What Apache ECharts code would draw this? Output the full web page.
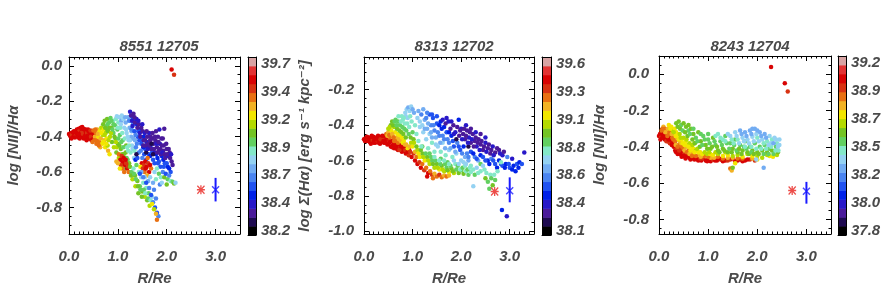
<!DOCTYPE html>
<html><head><meta charset="utf-8">
<script src="https://cdn.jsdelivr.net/npm/echarts@6/dist/echarts.min.js"></script>
<style>html,body{margin:0;padding:0;background:#fff}#c{width:885px;height:293px}</style>
</head><body><div id="c"></div>
<script>
// ---------------- DATA ----------------
const panelTitles = ['8551 12705', '8313 12702', '8243 12704'];
const xAxisName = 'R/Re';
const yAxisName = 'log [NII]/H\u03b1';
const colorbarName = 'log \u03a3(H\u03b1) [erg s\u207b\u00b9 kpc\u207b\u00b2]';
const xTicks = [0, 1, 2, 3];
const yTicks1 = [0, -0.2, -0.4, -0.6, -0.8];
const yTicks2 = [-0.2, -0.4, -0.6, -0.8, -1.0];
const yTicks3 = [0, -0.2, -0.4, -0.6, -0.8];
const cbTicks1 = [38.2, 38.45, 38.7, 38.95, 39.2, 39.45, 39.7];
const cbLabels1 = ['38.2', '38.4', '38.7', '38.9', '39.2', '39.4', '39.7'];
const cbTicks2 = [38.1, 38.35, 38.6, 38.85, 39.1, 39.35, 39.6];
const cbLabels2 = ['38.1', '38.4', '38.6', '38.8', '39.1', '39.3', '39.6'];
const cbTicks3 = [37.8, 38.033, 38.267, 38.5, 38.733, 38.967, 39.2];
const cbLabels3 = ['37.8', '38.0', '38.2', '38.5', '38.7', '38.9', '39.2'];
const cbRange1 = [38.164, 39.763];
const cbRange2 = [38.064, 39.663];
const cbRange3 = [37.766, 39.259];

// points: [R/Re, log [NII]/Ha, log Sigma(Ha)]
const points1 = [
[0.00,-0.385,39.55],[0.02,-0.395,39.55],[0.04,-0.38,39.55],[0.06,-0.39,39.48],[0.08,-0.375,39.55],[0.09,-0.40,39.55],[0.11,-0.385,39.55],[0.13,-0.37,39.55],[0.14,-0.395,39.48],[0.16,-0.36,39.55],[0.17,-0.38,39.55],[0.19,-0.405,39.55],[0.20,-0.355,39.55],[0.21,-0.37,39.48],[0.23,-0.39,39.55],[0.24,-0.35,39.55],[0.25,-0.375,39.55],[0.26,-0.40,39.55],[0.28,-0.36,39.55],[0.29,-0.385,39.48],[0.30,-0.41,39.55],[0.31,-0.37,39.55],[0.33,-0.39,39.55],[0.34,-0.36,39.55],[0.35,-0.405,39.55],[0.37,-0.38,39.48],[0.38,-0.395,39.55],[0.40,-0.37,39.55],[0.41,-0.41,39.55],[0.43,-0.385,39.55],[0.45,-0.40,39.48],[0.47,-0.375,39.55],[0.49,-0.415,39.55],[0.51,-0.39,39.55],[0.18,-0.39,39.55],[0.27,-0.345,39.55],[0.22,-0.41,39.55],[0.36,-0.42,39.55],[0.12,-0.405,39.55],
[0.05,-0.41,39.55],[0.15,-0.38,39.55],[0.26,-0.38,39.48],[0.32,-0.40,39.55],[0.39,-0.36,39.55],[0.44,-0.365,39.48],[0.46,-0.42,39.55],[0.10,-0.37,39.55],[0.30,-0.355,39.55],[0.20,-0.385,39.55],
[0.50,-0.365,39.40],[0.53,-0.40,39.32],[0.55,-0.38,39.40],[0.57,-0.42,39.40],[0.58,-0.36,39.32],[0.60,-0.40,39.24],[0.62,-0.43,39.40],[0.63,-0.37,39.24],[0.65,-0.41,39.32],[0.66,-0.35,39.16],[0.68,-0.44,39.24],[0.69,-0.39,39.16],[0.71,-0.36,39.24],[0.72,-0.42,39.32],[0.74,-0.46,39.24],[0.75,-0.38,39.16],[0.77,-0.41,39.24],[0.79,-0.45,39.16],[0.80,-0.48,39.32],[0.56,-0.44,39.40],[0.64,-0.46,39.32],[0.83,-0.50,39.24],
[0.52,-0.42,39.40],[0.59,-0.385,39.32],[0.61,-0.45,39.40],[0.67,-0.38,39.24],[0.70,-0.43,39.24],[0.73,-0.39,39.16],[0.76,-0.44,39.24],[0.78,-0.36,39.08],[0.54,-0.36,39.40],[0.48,-0.43,39.40],
[0.70,-0.33,39.08],[0.73,-0.31,39.08],[0.76,-0.345,39.00],[0.78,-0.30,39.08],[0.80,-0.37,39.08],[0.82,-0.32,39.00],[0.84,-0.40,39.16],[0.85,-0.295,39.00],[0.87,-0.35,39.08],[0.88,-0.43,39.08],[0.90,-0.31,38.92],[0.91,-0.38,39.00],[0.92,-0.46,39.16],[0.94,-0.335,39.00],[0.95,-0.41,39.08],[0.97,-0.49,39.08],[0.99,-0.36,39.00],[1.00,-0.44,39.08],[1.02,-0.52,39.16],[1.04,-0.39,39.00],[1.06,-0.47,39.08],[1.08,-0.56,39.08],[1.10,-0.42,39.00],[1.12,-0.50,39.08],[1.15,-0.58,39.00],[1.17,-0.45,39.08],[1.20,-0.53,39.00],[0.81,-0.42,39.16],[0.86,-0.38,39.16],[0.96,-0.43,39.16],
[0.74,-0.35,39.08],[0.79,-0.33,39.00],[0.83,-0.35,39.08],[0.89,-0.36,39.00],[0.93,-0.40,39.08],[0.98,-0.46,39.16],[1.01,-0.41,39.00],[1.03,-0.45,39.08],[1.07,-0.43,39.00],[1.09,-0.50,39.08],[1.11,-0.46,39.00],[1.13,-0.54,39.16],[1.16,-0.49,39.08],[1.18,-0.52,39.00],[1.21,-0.48,38.92],[1.23,-0.55,39.08],[0.91,-0.33,39.00],[0.87,-0.31,39.00],
[0.96,-0.30,38.92],[0.98,-0.285,38.84],[1.01,-0.32,38.92],[1.03,-0.29,38.84],[1.05,-0.35,38.92],[1.07,-0.31,38.76],[1.09,-0.38,38.92],[1.11,-0.30,38.84],[1.13,-0.35,38.84],[1.14,-0.41,38.92],[1.16,-0.32,38.76],[1.18,-0.38,38.84],[1.19,-0.46,38.92],[1.21,-0.29,38.76],[1.22,-0.42,38.84],[1.24,-0.35,38.76],[1.26,-0.49,38.92],[1.27,-0.40,38.76],[1.29,-0.45,38.84],[1.31,-0.33,38.68],[1.33,-0.52,38.84],[1.35,-0.42,38.76],
[1.00,-0.35,38.92],[1.06,-0.33,38.84],[1.08,-0.28,38.84],[1.15,-0.29,38.76],[1.17,-0.36,38.84],[1.20,-0.40,38.84],[1.23,-0.45,38.92],[1.25,-0.42,38.84],[1.28,-0.37,38.76],[1.30,-0.47,38.84],[1.32,-0.41,38.76],[1.34,-0.48,38.92],[1.26,-0.31,38.76],
[1.23,-0.31,38.68],[1.28,-0.36,38.68],[1.30,-0.29,38.60],[1.34,-0.37,38.60],[1.37,-0.46,38.68],[1.39,-0.33,38.52],[1.41,-0.40,38.60],[1.43,-0.49,38.68],[1.46,-0.36,38.52],[1.48,-0.44,38.60],[1.50,-0.52,38.68],[1.53,-0.40,38.52],[1.56,-0.47,38.60],[1.59,-0.43,38.52],[1.63,-0.50,38.60],[1.67,-0.46,38.52],[1.72,-0.53,38.60],[1.78,-0.50,38.52],[1.84,-0.54,38.60],[1.90,-0.51,38.52],[1.96,-0.55,38.60],[2.02,-0.57,38.52],[2.08,-0.60,38.60],[1.36,-0.53,38.52],
[1.33,-0.31,38.60],[1.36,-0.39,38.68],[1.39,-0.44,38.68],[1.42,-0.37,38.60],[1.44,-0.42,38.60],[1.47,-0.48,38.68],[1.50,-0.42,38.60],[1.52,-0.46,38.52],[1.54,-0.50,38.60],[1.58,-0.53,38.60],[1.61,-0.46,38.52],[1.66,-0.51,38.52],[1.70,-0.49,38.60],[1.75,-0.55,38.60],[1.81,-0.52,38.52],[1.87,-0.57,38.60],[1.93,-0.53,38.52],[2.00,-0.55,38.60],[2.05,-0.58,38.52],[1.40,-0.52,38.60],
[1.25,-0.26,38.44],[1.27,-0.28,38.36],[1.29,-0.31,38.44],[1.32,-0.27,38.36],[1.35,-0.32,38.36],[1.38,-0.30,38.44],[1.40,-0.35,38.36],[1.43,-0.33,38.36],[1.45,-0.38,38.44],[1.48,-0.35,38.36],[1.51,-0.37,38.36],[1.53,-0.42,38.36],[1.55,-0.38,38.44],[1.57,-0.45,38.36],[1.60,-0.40,38.36],[1.62,-0.44,38.36],[1.64,-0.38,38.44],[1.66,-0.42,38.36],[1.68,-0.47,38.36],[1.70,-0.41,38.36],[1.73,-0.44,38.36],[1.75,-0.49,38.44],[1.77,-0.42,38.36],[1.80,-0.46,38.36],[1.82,-0.40,38.36],[1.84,-0.48,38.36],[1.86,-0.44,38.44],[1.88,-0.50,38.36],[1.90,-0.45,38.36],[1.93,-0.48,38.36],[1.95,-0.355,38.36],[1.97,-0.52,38.36],[2.00,-0.47,38.36],[2.03,-0.51,38.44],[2.06,-0.49,38.36],[2.10,-0.54,38.36],[1.72,-0.50,38.28],[1.58,-0.49,38.28],[1.38,-0.50,38.28],[1.92,-0.41,38.36],
[1.30,-0.34,38.44],[1.34,-0.29,38.36],[1.42,-0.31,38.44],[1.46,-0.40,38.36],[1.50,-0.33,38.44],[1.52,-0.45,38.36],[1.56,-0.42,38.36],[1.59,-0.37,38.36],[1.61,-0.47,38.44],[1.65,-0.45,38.36],[1.67,-0.40,38.36],[1.69,-0.44,38.28],[1.71,-0.38,38.36],[1.74,-0.47,38.36],[1.76,-0.40,38.36],[1.79,-0.44,38.44],[1.81,-0.49,38.36],[1.83,-0.43,38.36],[1.87,-0.47,38.36],[1.89,-0.41,38.36],[1.91,-0.49,38.44],[1.94,-0.45,38.36],[1.96,-0.50,38.36],[1.99,-0.44,38.36],[2.01,-0.50,38.36],[2.04,-0.47,38.36],[2.07,-0.52,38.36],[2.09,-0.50,38.44],[2.12,-0.56,38.36],[1.85,-0.36,38.44],[1.78,-0.37,38.36],
[1.02,-0.50,39.40],[1.05,-0.53,39.55],[1.08,-0.51,39.48],[1.10,-0.545,39.55],[1.12,-0.52,39.55],[1.14,-0.56,39.55],[1.17,-0.55,39.48],[1.19,-0.58,39.55],[0.97,-0.54,39.32],[1.13,-0.60,39.40],[1.22,-0.60,39.40],
[1.06,-0.56,39.48],[1.09,-0.58,39.40],[1.16,-0.53,39.55],[1.21,-0.57,39.48],[1.00,-0.55,39.32],[1.04,-0.58,39.24],
[1.49,-0.55,39.55],[1.53,-0.56,39.48],[1.56,-0.54,39.55],[1.59,-0.57,39.55],[1.62,-0.55,39.48],[1.64,-0.60,39.55],[1.68,-0.58,39.40],[1.55,-0.60,39.40],[1.60,-0.62,39.32],[1.46,-0.57,39.24],
[1.51,-0.58,39.48],[1.57,-0.58,39.55],[1.66,-0.56,39.55],[1.61,-0.52,39.40],
[1.25,-0.57,39.08],[1.28,-0.60,39.00],[1.32,-0.58,38.92],[1.35,-0.62,39.08],[1.38,-0.56,39.00],[1.40,-0.65,39.08],[1.43,-0.60,38.92],[1.45,-0.68,39.00],[1.48,-0.63,38.84],[1.50,-0.71,39.08],[1.52,-0.66,38.92],[1.55,-0.74,39.16],[1.58,-0.69,38.92],[1.60,-0.76,39.08],[1.63,-0.72,39.00],[1.65,-0.79,39.16],[1.30,-0.64,39.16],[1.36,-0.68,39.16],[1.42,-0.72,39.08],
[1.27,-0.62,39.08],[1.33,-0.61,39.00],[1.37,-0.64,39.00],[1.41,-0.68,39.08],[1.46,-0.70,39.00],[1.49,-0.74,39.08],[1.53,-0.70,39.00],[1.56,-0.72,38.92],[1.62,-0.75,39.00],[1.67,-0.76,38.92],[1.70,-0.74,38.84],[1.48,-0.60,38.76],[1.55,-0.63,38.84],[1.62,-0.65,38.76],[1.66,-0.63,38.84],[1.72,-0.66,38.76],[1.74,-0.70,38.68],[1.78,-0.75,38.68],
[1.45,-0.61,38.60],[1.52,-0.63,38.68],[1.58,-0.66,38.60],[1.64,-0.69,38.68],[1.68,-0.73,38.60],[1.72,-0.77,38.68],[1.76,-0.80,38.60],[1.80,-0.83,38.60],[1.83,-0.85,38.68],
[1.70,-0.78,39.24],[1.74,-0.81,39.16],[1.78,-0.835,39.32],[1.80,-0.87,39.40],
[1.75,-0.60,38.84],[1.80,-0.58,38.92],[1.84,-0.61,39.00],[1.88,-0.63,38.92],[1.92,-0.60,38.68],[1.95,-0.63,39.08],[1.98,-0.61,38.60],[2.02,-0.64,39.00],[2.05,-0.62,38.68],[2.08,-0.65,38.92],[2.12,-0.655,39.00],[2.15,-0.665,39.08],[2.18,-0.66,38.84],[1.86,-0.67,38.68],[1.90,-0.66,38.84],[2.00,-0.67,39.08],[1.78,-0.64,38.92],[1.82,-0.55,38.60],[1.94,-0.57,38.60],
[2.10,-0.02,39.55],[2.15,-0.05,39.48]
];
const points2 = [
[0.00,-0.48,39.46],[0.03,-0.475,39.46],[0.05,-0.49,39.46],[0.08,-0.48,39.38],[0.10,-0.47,39.46],[0.12,-0.495,39.46],[0.15,-0.475,39.46],[0.17,-0.49,39.38],[0.19,-0.465,39.46],[0.21,-0.485,39.46],[0.23,-0.50,39.46],[0.25,-0.47,39.46],[0.27,-0.49,39.38],[0.29,-0.46,39.46],[0.31,-0.48,39.46],[0.33,-0.505,39.46],[0.35,-0.465,39.46],[0.37,-0.49,39.46],[0.39,-0.475,39.38],[0.41,-0.50,39.46],[0.43,-0.46,39.46],[0.45,-0.485,39.46],[0.48,-0.51,39.46],[0.50,-0.475,39.38],[0.52,-0.50,39.46],[0.55,-0.52,39.46],[0.57,-0.49,39.46],[0.60,-0.51,39.46],[0.62,-0.53,39.46],[0.65,-0.50,39.38],[0.67,-0.52,39.46],[0.70,-0.54,39.46],[0.72,-0.51,39.46],[0.75,-0.53,39.46],[0.78,-0.55,39.46],[0.80,-0.52,39.38],[0.83,-0.545,39.46],[0.86,-0.56,39.46],[0.88,-0.53,39.46],[0.92,-0.57,39.38],[0.14,-0.505,39.46],[0.06,-0.465,39.46],
[0.02,-0.49,39.46],[0.09,-0.49,39.46],[0.16,-0.46,39.46],[0.20,-0.50,39.46],[0.26,-0.48,39.46],[0.30,-0.50,39.46],[0.34,-0.48,39.38],[0.38,-0.46,39.46],[0.40,-0.49,39.46],[0.44,-0.50,39.46],[0.47,-0.47,39.46],[0.54,-0.49,39.46],[0.58,-0.525,39.46],[0.63,-0.51,39.46],[0.68,-0.535,39.46],[0.73,-0.54,39.38],[0.77,-0.52,39.46],[0.82,-0.53,39.46],[0.85,-0.54,39.38],[0.90,-0.55,39.46],[0.93,-0.54,39.46],
[0.46,-0.45,39.30],[0.50,-0.44,39.22],[0.53,-0.47,39.30],[0.56,-0.43,39.14],[0.59,-0.46,39.22],[0.62,-0.49,39.30],[0.64,-0.44,39.14],[0.67,-0.47,39.22],[0.70,-0.50,39.30],[0.73,-0.46,39.14],[0.76,-0.49,39.22],[0.80,-0.50,39.14],[0.84,-0.51,39.22],[0.90,-0.53,39.14],
[0.48,-0.46,39.22],[0.52,-0.455,39.30],[0.58,-0.45,39.22],[0.61,-0.47,39.30],[0.66,-0.49,39.30],[0.69,-0.45,39.14],[0.72,-0.48,39.22],[0.78,-0.47,39.14],[0.82,-0.49,39.14],[0.87,-0.51,39.22],[0.94,-0.52,39.22],[0.97,-0.50,39.06],
[0.50,-0.42,39.06],[0.55,-0.40,38.98],[0.58,-0.38,38.98],[0.62,-0.41,39.06],[0.65,-0.37,38.90],[0.68,-0.42,38.98],[0.71,-0.35,38.82],[0.74,-0.40,38.90],[0.77,-0.44,38.98],[0.80,-0.37,38.82],[0.83,-0.42,38.90],[0.86,-0.47,38.98],[0.89,-0.39,38.82],[0.92,-0.45,38.90],
[0.53,-0.41,39.06],[0.60,-0.40,38.98],[0.63,-0.38,38.90],[0.67,-0.40,38.90],[0.70,-0.38,38.90],[0.73,-0.43,38.98],[0.76,-0.38,38.82],[0.79,-0.41,38.90],[0.81,-0.45,38.98],[0.84,-0.39,38.82],[0.87,-0.43,38.90],[0.90,-0.36,38.74],[0.93,-0.41,38.82],[0.96,-0.47,38.98],[0.98,-0.38,38.82],[1.00,-0.44,38.90],[1.02,-0.48,38.98],[0.78,-0.35,38.82],[0.86,-0.35,38.74],
[0.85,-0.33,38.74],[0.88,-0.31,38.74],[0.91,-0.30,38.66],[0.94,-0.32,38.74],[0.97,-0.295,38.74],[1.00,-0.31,38.66],[0.95,-0.35,38.82],[1.03,-0.33,38.66],[0.82,-0.36,38.82],
[0.95,-0.55,39.38],[0.98,-0.58,39.46],[1.02,-0.56,39.38],[1.05,-0.60,39.46],[1.08,-0.58,39.30],[1.10,-0.62,39.46],[1.14,-0.61,39.38],[1.17,-0.64,39.46],[1.20,-0.62,39.30],[1.24,-0.655,39.38],[1.28,-0.64,39.30],[1.32,-0.67,39.46],[1.36,-0.66,39.30],[1.40,-0.68,39.38],[1.45,-0.675,39.22],[1.50,-0.69,39.30],[1.55,-0.68,39.38],[1.60,-0.695,39.30],[1.65,-0.685,39.22],[1.70,-0.69,39.30],[1.75,-0.685,39.22],[1.30,-0.69,39.46],[1.42,-0.70,39.30],
[1.00,-0.52,39.14],[1.05,-0.55,39.22],[1.10,-0.54,39.06],[1.15,-0.58,39.14],[1.20,-0.56,38.98],[1.25,-0.60,39.14],[1.30,-0.58,38.98],[1.35,-0.62,39.06],[1.40,-0.60,38.90],[1.45,-0.64,39.06],[1.50,-0.62,38.98],[1.55,-0.65,39.14],[1.60,-0.63,38.98],[1.65,-0.66,39.06],[1.70,-0.64,38.90],[1.75,-0.665,39.14],[1.80,-0.645,38.98],[1.85,-0.67,39.06],[1.90,-0.65,38.90],[1.95,-0.67,38.98],[2.00,-0.655,38.90],[2.05,-0.675,38.98],[2.10,-0.66,38.82],[2.15,-0.68,38.90],[2.20,-0.665,38.82],[2.28,-0.68,38.90],[2.35,-0.67,38.82],[1.58,-0.59,38.90],[1.72,-0.61,38.90],[1.88,-0.62,38.82],[1.35,-0.56,38.90],[1.20,-0.52,38.90],
[1.03,-0.50,39.06],[1.08,-0.52,38.98],[1.12,-0.56,39.14],[1.17,-0.54,38.98],[1.22,-0.58,39.06],[1.27,-0.56,38.90],[1.32,-0.60,39.06],[1.38,-0.58,38.90],[1.42,-0.62,38.98],[1.47,-0.60,38.90],[1.52,-0.64,39.06],[1.57,-0.62,38.90],[1.62,-0.65,39.06],[1.67,-0.62,38.90],[1.72,-0.655,38.98],[1.78,-0.63,38.90],[1.83,-0.66,38.98],[1.93,-0.63,38.90],[1.98,-0.65,38.82],[2.03,-0.64,38.90],[2.08,-0.63,38.82],[2.13,-0.65,38.90],[2.18,-0.64,38.82],[2.25,-0.65,38.82],[2.32,-0.64,38.74],[2.40,-0.66,38.82],[1.45,-0.58,38.82],[1.55,-0.60,38.82],[1.65,-0.60,38.82],[1.75,-0.62,38.82],[1.85,-0.60,38.74],[1.95,-0.62,38.74],[2.05,-0.61,38.74],[2.15,-0.60,38.66],
[1.05,-0.40,38.82],[1.08,-0.45,38.82],[1.10,-0.36,38.74],[1.12,-0.49,38.82],[1.15,-0.41,38.74],[1.18,-0.52,38.82],[1.22,-0.44,38.74],[1.25,-0.37,38.66],[1.28,-0.48,38.74],[1.32,-0.53,38.82],[1.35,-0.45,38.74],[1.40,-0.50,38.82],[1.45,-0.55,38.82],[1.48,-0.47,38.66],[1.52,-0.52,38.74],[1.58,-0.55,38.82],[1.62,-0.50,38.74],[1.68,-0.57,38.82],[1.75,-0.54,38.74],[1.82,-0.58,38.82],[1.90,-0.56,38.74],[2.00,-0.60,38.74],[2.10,-0.62,38.74],[2.20,-0.63,38.82],
[1.12,-0.32,38.66],[1.18,-0.34,38.58],[1.22,-0.31,38.66],[1.28,-0.36,38.58],[1.30,-0.42,38.66],[1.35,-0.34,38.50],[1.38,-0.40,38.58],[1.42,-0.36,38.50],[1.45,-0.43,38.58],[1.50,-0.39,38.50],[1.55,-0.46,38.58],[1.60,-0.42,38.42],[1.65,-0.48,38.58],[1.70,-0.44,38.50],[1.75,-0.50,38.58],[1.80,-0.46,38.42],[1.85,-0.52,38.50],[1.92,-0.50,38.58],[1.98,-0.54,38.50],[2.05,-0.52,38.42],[2.12,-0.56,38.58],[2.20,-0.55,38.50],[2.28,-0.58,38.58],[2.35,-0.60,38.66],[1.40,-0.47,38.66],[1.58,-0.38,38.42],
[1.15,-0.38,38.74],[1.20,-0.40,38.74],[1.25,-0.42,38.66],[1.32,-0.39,38.66],[1.38,-0.44,38.66],[1.43,-0.40,38.58],[1.48,-0.51,38.74],[1.52,-0.44,38.58],[1.57,-0.50,38.66],[1.62,-0.46,38.58],[1.67,-0.53,38.66],[1.72,-0.48,38.58],[1.78,-0.53,38.66],[1.83,-0.49,38.50],[1.88,-0.55,38.66],[1.95,-0.52,38.50],[2.02,-0.56,38.58],[2.08,-0.58,38.66],[2.15,-0.58,38.58],[2.25,-0.56,38.42],[2.32,-0.59,38.50],[2.40,-0.57,38.42],[1.30,-0.33,38.58],[1.40,-0.34,38.50],[1.50,-0.35,38.50],[1.55,-0.40,38.42],[1.65,-0.41,38.42],[1.75,-0.44,38.42],[1.85,-0.45,38.34],[1.70,-0.36,38.34],[1.80,-0.38,38.34],
[1.62,-0.37,38.34],[1.68,-0.39,38.26],[1.74,-0.38,38.34],[1.78,-0.42,38.26],[1.84,-0.40,38.26],[1.88,-0.44,38.34],[1.92,-0.41,38.26],[1.96,-0.46,38.26],[2.00,-0.42,38.34],[2.04,-0.45,38.26],[2.08,-0.48,38.26],[2.12,-0.43,38.26],[2.16,-0.47,38.34],[2.20,-0.50,38.26],[2.24,-0.45,38.26],[2.28,-0.49,38.26],[2.32,-0.52,38.34],[2.36,-0.48,38.26],[2.40,-0.51,38.26],[2.45,-0.54,38.26],[2.50,-0.50,38.34],[2.55,-0.53,38.26],[2.60,-0.56,38.26],[2.65,-0.52,38.34],[2.70,-0.555,38.26],[2.78,-0.54,38.26],[2.85,-0.57,38.34],[1.90,-0.48,38.18],[2.15,-0.52,38.18],[2.30,-0.44,38.34],[2.10,-0.40,38.34],[1.95,-0.37,38.42],
[1.98,-0.43,38.26],[2.02,-0.48,38.34],[2.06,-0.42,38.26],[2.10,-0.46,38.26],[2.14,-0.50,38.34],[2.18,-0.44,38.26],[2.22,-0.48,38.34],[2.26,-0.52,38.26],[2.30,-0.47,38.26],[2.34,-0.50,38.26],[2.38,-0.54,38.34],[2.42,-0.49,38.26],[2.47,-0.52,38.26],[2.52,-0.55,38.34],[2.57,-0.51,38.26],[2.62,-0.54,38.26],[2.67,-0.57,38.34],[2.74,-0.53,38.26],[2.80,-0.56,38.34],[2.88,-0.55,38.26],[2.40,-0.45,38.26],[2.50,-0.47,38.34],[2.20,-0.42,38.26],
[2.45,-0.58,38.50],[2.55,-0.60,38.42],[2.62,-0.59,38.58],[2.70,-0.62,38.50],[2.78,-0.60,38.42],[2.85,-0.63,38.50],[2.92,-0.62,38.42],[3.00,-0.64,38.50],[3.08,-0.63,38.42],[3.15,-0.62,38.50],[3.20,-0.61,38.42],[3.05,-0.59,38.34],[3.30,-0.555,38.34],[2.95,-0.58,38.58],[3.12,-0.66,38.42],
[2.50,-0.60,38.50],[2.58,-0.62,38.42],[2.66,-0.60,38.50],[2.74,-0.64,38.42],[2.82,-0.62,38.50],[2.90,-0.64,38.42],[2.98,-0.62,38.50],[3.05,-0.65,38.42],[3.18,-0.64,38.42],[3.25,-0.62,38.50],
[2.40,-0.62,38.90],[2.48,-0.65,38.82],[2.50,-0.70,38.98],[2.55,-0.72,38.90],[2.60,-0.68,38.82],[2.65,-0.74,38.98],[2.70,-0.71,38.90],[2.75,-0.66,38.82],[2.58,-0.76,38.90],[2.82,-0.61,38.82],[2.25,-0.745,38.74],
[2.45,-0.63,38.74],[2.52,-0.67,38.82],[2.62,-0.70,38.90],[2.68,-0.68,38.82],
[2.84,-0.88,38.42],[2.94,-0.915,38.34]
];
const points3 = [
[0.00,-0.34,39.07],[0.02,-0.33,39.07],[0.04,-0.35,39.00],[0.06,-0.32,39.07],[0.08,-0.34,39.07],[0.10,-0.31,39.07],[0.12,-0.36,39.07],[0.14,-0.33,39.00],[0.16,-0.35,39.07],[0.18,-0.37,39.07],[0.20,-0.34,39.07],[0.22,-0.38,39.00],[0.24,-0.36,39.07],[0.26,-0.39,39.07],[0.28,-0.37,39.07],[0.30,-0.40,39.07],[0.33,-0.42,39.07],[0.36,-0.41,39.00],[0.39,-0.43,39.07],[0.42,-0.44,39.07],[0.45,-0.43,39.07],[0.48,-0.45,39.07],[0.52,-0.44,39.00],[0.55,-0.455,39.07],[0.58,-0.445,39.07],[0.62,-0.46,39.07],[0.66,-0.45,39.07],[0.70,-0.465,39.00],[0.74,-0.455,39.07],[0.78,-0.47,39.07],[0.82,-0.46,39.07],[0.86,-0.475,39.07],[0.90,-0.465,39.00],[0.95,-0.475,39.07],[1.00,-0.47,39.07],[1.05,-0.48,39.07],[1.10,-0.47,39.00],[1.18,-0.475,39.07],[1.25,-0.47,39.00],[1.35,-0.475,39.07],[1.45,-0.47,39.00],[1.55,-0.48,39.07],[1.65,-0.47,39.00],[1.75,-0.475,39.07],[1.85,-0.47,39.00],[0.44,-0.41,39.00],[0.60,-0.43,39.00],
[0.03,-0.36,39.07],[0.07,-0.35,39.07],[0.11,-0.34,39.07],[0.15,-0.37,39.00],[0.19,-0.36,39.07],[0.23,-0.35,39.07],[0.27,-0.38,39.07],[0.31,-0.39,39.07],[0.35,-0.43,39.07],[0.38,-0.44,39.07],[0.41,-0.42,39.00],[0.46,-0.455,39.07],[0.50,-0.45,39.07],[0.54,-0.465,39.07],[0.64,-0.47,39.07],[0.68,-0.46,39.07],[0.72,-0.47,39.07],[0.80,-0.475,39.07],[0.84,-0.465,39.00],[0.98,-0.48,39.07],[1.14,-0.475,39.07],[1.30,-0.48,39.07],[1.40,-0.475,39.00],[1.60,-0.475,39.07],[1.70,-0.48,39.07],[1.80,-0.47,39.07],[1.95,-0.475,39.00],[1.22,-0.465,39.07],[1.50,-0.465,39.07],
[0.05,-0.31,38.92],[0.09,-0.29,38.85],[0.12,-0.30,38.92],[0.15,-0.32,38.92],[0.18,-0.30,38.85],[0.21,-0.33,38.92],[0.24,-0.31,38.85],[0.27,-0.35,38.92],[0.30,-0.33,38.85],[0.33,-0.37,38.92],[0.36,-0.35,38.85],[0.40,-0.39,38.92],[0.45,-0.38,38.85],[0.50,-0.41,38.92],[0.55,-0.40,38.85],[0.60,-0.42,38.92],[0.65,-0.43,38.85],[0.70,-0.44,38.92],[0.80,-0.445,38.85],[0.92,-0.45,38.92],[1.05,-0.46,38.85],[1.20,-0.455,38.92],[1.40,-0.46,38.85],[1.60,-0.465,38.92],[1.45,-0.52,38.92],[1.48,-0.53,38.85],
[0.07,-0.30,38.92],[0.13,-0.32,38.85],[0.17,-0.34,38.92],[0.22,-0.32,38.92],[0.26,-0.33,38.85],[0.29,-0.36,38.92],[0.34,-0.39,38.85],[0.38,-0.40,38.92],[0.42,-0.37,38.85],[0.47,-0.40,38.92],[0.52,-0.42,38.85],[0.57,-0.43,38.92],[0.62,-0.44,38.85],[0.67,-0.45,38.92],[0.75,-0.45,38.92],[0.85,-0.455,38.85],[1.00,-0.455,38.92],[1.12,-0.46,38.85],[1.30,-0.465,38.92],[1.50,-0.46,38.85],[1.70,-0.465,38.92],[1.90,-0.465,38.85],
[0.20,-0.28,38.77],[0.25,-0.29,38.77],[0.28,-0.31,38.70],[0.32,-0.30,38.77],[0.35,-0.32,38.77],[0.38,-0.34,38.77],[0.42,-0.33,38.70],[0.46,-0.36,38.77],[0.50,-0.35,38.70],[0.54,-0.37,38.77],[0.58,-0.39,38.77],[0.62,-0.38,38.70],[0.66,-0.40,38.77],[0.70,-0.41,38.77],[0.75,-0.42,38.70],[0.80,-0.43,38.77],[0.88,-0.44,38.77],[0.98,-0.44,38.70],[1.10,-0.445,38.77],[1.30,-0.45,38.77],[1.50,-0.45,38.70],[1.70,-0.455,38.77],[1.90,-0.45,38.77],[2.10,-0.46,38.70],[2.25,-0.45,38.77],[2.40,-0.445,38.70],[1.55,-0.49,38.77],[2.00,-0.47,38.77],
[0.23,-0.30,38.77],[0.30,-0.32,38.70],[0.34,-0.34,38.77],[0.40,-0.36,38.77],[0.44,-0.35,38.70],[0.48,-0.38,38.77],[0.52,-0.39,38.77],[0.56,-0.36,38.70],[0.60,-0.40,38.77],[0.64,-0.42,38.77],[0.68,-0.39,38.70],[0.72,-0.43,38.77],[0.78,-0.41,38.70],[0.84,-0.43,38.77],[0.93,-0.43,38.70],[1.04,-0.44,38.77],[1.20,-0.44,38.70],[1.40,-0.445,38.77],[1.60,-0.445,38.70],[1.80,-0.44,38.70],[2.00,-0.45,38.70],[2.20,-0.445,38.70],[2.32,-0.455,38.77],[1.15,-0.43,38.70],[1.35,-0.43,38.70],
[0.35,-0.27,38.62],[0.40,-0.26,38.62],[0.45,-0.28,38.55],[0.50,-0.27,38.62],[0.55,-0.29,38.62],[0.60,-0.31,38.55],[0.65,-0.30,38.62],[0.70,-0.33,38.62],[0.75,-0.35,38.55],[0.80,-0.32,38.62],[0.85,-0.37,38.62],[0.90,-0.34,38.55],[0.95,-0.39,38.62],[1.00,-0.36,38.55],[1.05,-0.41,38.62],[1.10,-0.35,38.62],[1.15,-0.39,38.55],[1.20,-0.42,38.62],[1.25,-0.37,38.55],[1.30,-0.41,38.62],[1.35,-0.34,38.55],[1.40,-0.43,38.62],[1.45,-0.38,38.55],[1.50,-0.41,38.62],[1.55,-0.36,38.55],[1.60,-0.43,38.62],[1.65,-0.39,38.55],[1.70,-0.42,38.62],[1.75,-0.37,38.55],[1.80,-0.43,38.62],[1.85,-0.40,38.55],[1.90,-0.42,38.62],[1.95,-0.38,38.55],[2.00,-0.43,38.62],[2.05,-0.40,38.55],[2.10,-0.42,38.62],[2.15,-0.39,38.55],[2.20,-0.43,38.62],[2.25,-0.41,38.55],[2.30,-0.42,38.62],[2.38,-0.40,38.55],[2.42,-0.43,38.62],[1.50,-0.515,38.62],[0.72,-0.38,38.70],[1.02,-0.43,38.70],
[0.38,-0.29,38.62],[0.43,-0.30,38.62],[0.48,-0.31,38.55],[0.53,-0.32,38.62],[0.58,-0.34,38.62],[0.63,-0.33,38.55],[0.68,-0.36,38.62],[0.73,-0.38,38.62],[0.78,-0.37,38.55],[0.83,-0.40,38.62],[0.88,-0.39,38.55],[0.93,-0.36,38.55],[0.98,-0.41,38.62],[1.03,-0.38,38.55],[1.08,-0.40,38.62],[1.13,-0.37,38.55],[1.18,-0.40,38.62],[1.23,-0.43,38.62],[1.28,-0.39,38.55],[1.33,-0.42,38.62],[1.38,-0.38,38.55],[1.43,-0.41,38.55],[1.48,-0.43,38.62],[1.53,-0.39,38.55],[1.58,-0.42,38.55],[1.63,-0.41,38.62],[1.68,-0.44,38.62],[1.73,-0.40,38.55],[1.78,-0.41,38.55],[1.83,-0.44,38.62],[1.88,-0.43,38.55],[1.93,-0.44,38.62],[1.98,-0.41,38.48],[2.03,-0.44,38.62],[2.08,-0.41,38.48],[2.13,-0.44,38.55],[2.18,-0.41,38.48],[2.23,-0.44,38.55],[2.28,-0.40,38.48],[2.33,-0.44,38.55],[2.37,-0.42,38.48],[0.60,-0.28,38.62],[0.70,-0.30,38.55],[0.85,-0.33,38.55],[1.00,-0.33,38.55],[1.15,-0.34,38.48],
[1.20,-0.33,38.48],[1.30,-0.36,38.48],[1.40,-0.33,38.40],[1.48,-0.36,38.48],[1.55,-0.32,38.40],[1.60,-0.36,38.48],[1.65,-0.31,38.33],[1.70,-0.35,38.40],[1.75,-0.32,38.33],[1.80,-0.36,38.40],[1.85,-0.31,38.33],[1.90,-0.345,38.40],[1.95,-0.30,38.33],[2.00,-0.35,38.48],[2.05,-0.32,38.33],[2.10,-0.36,38.40],[2.15,-0.33,38.33],[2.20,-0.37,38.48],[2.25,-0.34,38.40],[2.30,-0.36,38.48],[2.35,-0.35,38.40],[2.40,-0.38,38.48],[2.45,-0.39,38.40],[2.43,-0.42,38.48],[1.88,-0.40,38.48],[2.13,-0.515,38.33],[1.98,-0.47,38.40],[1.75,-0.40,38.48],
[1.25,-0.35,38.48],[1.35,-0.37,38.48],[1.45,-0.34,38.40],[1.52,-0.38,38.48],[1.58,-0.34,38.40],[1.63,-0.38,38.40],[1.68,-0.33,38.33],[1.73,-0.37,38.40],[1.78,-0.34,38.33],[1.83,-0.38,38.40],[1.88,-0.33,38.33],[1.93,-0.37,38.40],[1.98,-0.33,38.40],[2.03,-0.37,38.40],[2.08,-0.34,38.33],[2.13,-0.38,38.48],[2.18,-0.35,38.33],[2.23,-0.39,38.40],[2.28,-0.38,38.40],[2.33,-0.38,38.33],[2.38,-0.36,38.40],[2.42,-0.40,38.40],[2.45,-0.36,38.40],[1.90,-0.30,38.33],[2.00,-0.31,38.33],
[2.28,0.04,39.07],[2.56,-0.05,39.07],[2.62,-0.095,39.00]
];
const starPoints = [[2.70, -0.70], [2.69, -0.775], [2.71, -0.64]];
const crossPoints = [[3.0, -0.70], [3.0, -0.77], [3.0, -0.645]];
const errorBars = [[-0.633, -0.766], [-0.695, -0.836], [-0.593, -0.713]];

const colorTable = ['#000000','#1e0a50','#4a1a9a','#2818c8','#0022e8','#2052f0','#4a84f0','#72acf2','#94d2f2','#84e8c8',
                    '#62d060','#74c424','#b4da00','#f2e600','#f2b224','#e87012','#d83212','#d80404','#e23434','#d8a4a4'];

// ---------------- LAYOUT ----------------
const layout = [
  {grid:{left:69,top:57,width:171,height:177}, cb:{left:248,top:57,width:8,height:178}, yRange:[-0.95,0.05], yTicks:yTicks1,
   cbRange:cbRange1, cbTicks:cbTicks1, cbLabels:cbLabels1, yName:true, yGap:48, cbName:true, titleX:154, yLabelMargin:7},
  {grid:{left:364,top:57,width:170,height:177}, cb:{left:542,top:57,width:9,height:178}, yRange:[-1.015,-0.015], yTicks:yTicks2,
   cbRange:cbRange2, cbTicks:cbTicks2, cbLabels:cbLabels2, yName:false, yGap:48, cbName:false, titleX:449, yLabelMargin:10},
  {grid:{left:659,top:56,width:172,height:178}, cb:{left:838,top:56,width:8,height:179}, yRange:[-0.88,0.1], yTicks:yTicks3,
   cbRange:cbRange3, cbTicks:cbTicks3, cbLabels:cbLabels3, yName:true, yGap:52, cbName:false, titleX:745, yLabelMargin:10}
];
const xRange = [0, 3.5];
const FONT = {fontFamily:'Liberation Sans, Arial, DejaVu Sans, sans-serif', fontWeight:'bold', fontStyle:'italic', fontSize:15, color:'#4a4a4a'};

function steps(min, max, step) {
  const out = [];
  const s = Math.ceil(min / step - 1e-9), e = Math.floor(max / step + 1e-9);
  for (let k = s; k <= e; k++) out.push(+(k * step).toFixed(4));
  return out;
}

const grids = [], xAxes = [], yAxes = [], series = [], visualMaps = [], titles = [];
const lineBlack = {color:'#000', width:1};

layout.forEach((L, i) => {
  const gMain = grids.length; grids.push(Object.assign({}, L.grid));
  const gMinor = grids.length; grids.push(Object.assign({}, L.grid));
  const gCb = grids.length; grids.push(Object.assign({}, L.cb));
  const xMinors = steps(xRange[0], xRange[1], 0.1);
  const yMinors = steps(L.yRange[0], L.yRange[1], 0.05);

  const xMainIdx = xAxes.length;
  ['bottom', 'top'].forEach((pos, k) => {
    xAxes.push({gridIndex:gMain, type:'value', min:xRange[0], max:xRange[1], position:pos,
      axisLine:{show:true, onZero:false, lineStyle:lineBlack},
      axisTick:{show:true, inside:true, length:5, customValues:xTicks, lineStyle:lineBlack},
      axisLabel:{show:k === 0, customValues:xTicks, formatter:v => v.toFixed(1), margin:15, ...FONT},
      splitLine:{show:false},
      name: k === 0 ? xAxisName : '', nameLocation:'middle', nameGap:37, nameTextStyle:{...FONT}});
  });
  ['bottom', 'top'].forEach(pos => {
    xAxes.push({gridIndex:gMinor, type:'value', min:xRange[0], max:xRange[1], position:pos,
      axisLine:{show:false, onZero:false}, axisTick:{show:true, inside:true, length:2.5, customValues:xMinors, lineStyle:lineBlack},
      axisLabel:{show:false}, splitLine:{show:false}});
  });
  const yMainIdx = yAxes.length;
  ['left', 'right'].forEach((pos, k) => {
    yAxes.push({gridIndex:gMain, type:'value', min:L.yRange[0], max:L.yRange[1], position:pos,
      axisLine:{show:true, onZero:false, lineStyle:lineBlack},
      axisTick:{show:true, inside:true, length:5, customValues:L.yTicks, lineStyle:lineBlack},
      axisLabel:{show:k === 0, customValues:L.yTicks, formatter:v => v.toFixed(1), margin:L.yLabelMargin, ...FONT},
      splitLine:{show:false},
      name: (k === 0 && L.yName) ? yAxisName : '', nameLocation:'middle', nameGap:L.yGap, nameRotate:90, nameTextStyle:{...FONT}});
  });
  ['left', 'right'].forEach(pos => {
    yAxes.push({gridIndex:gMinor, type:'value', min:L.yRange[0], max:L.yRange[1], position:pos,
      axisLine:{show:false, onZero:false}, axisTick:{show:true, inside:true, length:2.5, customValues:yMinors, lineStyle:lineBlack},
      axisLabel:{show:false}, splitLine:{show:false}});
  });
  const xCbIdx = xAxes.length;
  ['bottom', 'top'].forEach(pos => {
    xAxes.push({gridIndex:gCb, type:'value', min:0, max:1, position:pos, z:5,
      axisLine:{show:true, onZero:false, lineStyle:lineBlack}, axisTick:{show:false}, axisLabel:{show:false}, splitLine:{show:false}});
  });
  const yCbIdx = yAxes.length;
  ['left', 'right'].forEach((pos, k) => {
    yAxes.push({gridIndex:gCb, type:'value', min:L.cbRange[0], max:L.cbRange[1], position:pos, z:5,
      axisLine:{show:true, onZero:false, lineStyle:lineBlack}, axisTick:{show:false},
      axisLabel:{show:k === 1, customValues:L.cbTicks, formatter:v => L.cbLabels[L.cbTicks.indexOf(v)] ?? '', margin:5, ...FONT},
      splitLine:{show:false},
      name:(k === 1 && L.cbName) ? colorbarName : '', nameLocation:'middle', nameGap:41, nameRotate:90, nameTextStyle:{...FONT}});
  });

  const w = (L.cbRange[1] - L.cbRange[0]) / colorTable.length;
  const bands = colorTable.map((c, k) => [k, L.cbRange[0] + k * w, L.cbRange[0] + (k + 1) * w]);

  const pts = [points1, points2, points3][i];
  const sIdx = series.length;
  series.push({type:'scatter', xAxisIndex:xMainIdx, yAxisIndex:yMainIdx, data:pts, symbol:'circle', symbolSize:4.5,
    itemStyle:{opacity:1}, clip:true, silent:true, animation:false});
  visualMaps.push({type:'piecewise', show:false, seriesIndex:sIdx, dimension:2,
    pieces: bands.map(b => ({gte:b[1], lt:b[2] + (b[0] === colorTable.length - 1 ? 1 : 0), color:colorTable[b[0]]}))});

  series.push({type:'line', xAxisIndex:xMainIdx, yAxisIndex:yMainIdx,
    data:[[crossPoints[i][0], errorBars[i][0]], [crossPoints[i][0], errorBars[i][1]]],
    symbol:'none', lineStyle:{color:'#1a1aff', width:2}, animation:false, silent:true});
  series.push({type:'scatter', xAxisIndex:xMainIdx, yAxisIndex:yMainIdx, data:[starPoints[i]],
    symbol:'path://M8.4,0L11.6,0L11.6,20L8.4,20ZM0,8.4L20,8.4L20,11.6L0,11.6ZM0,2.2L2.2,0L20,17.8L17.8,20ZM17.8,0L20,2.2L2.2,20L0,17.8Z',
    symbolSize:[8,9], itemStyle:{color:'#e8201c'}, z:4, animation:false, silent:true});
  series.push({type:'scatter', xAxisIndex:xMainIdx, yAxisIndex:yMainIdx, data:[crossPoints[i]],
    symbol:'path://M0,2.5L2.5,0L20,17.5L17.5,20ZM17.5,0L20,2.5L2.5,20L0,17.5Z',
    symbolSize:[8,8], itemStyle:{color:'#1a1aff'}, z:4, animation:false, silent:true});

  series.push({type:'custom', xAxisIndex:xCbIdx, yAxisIndex:yCbIdx, data:bands, silent:true, animation:false,
    encode:{x:0, y:[1, 2]},
    renderItem:(params, api) => {
      const k = api.value(0);
      const p1 = api.coord([0, api.value(2)]);
      const p2 = api.coord([1, api.value(1)]);
      return {type:'rect', shape:{x:p1[0], y:p1[1], width:p2[0] - p1[0], height:p2[1] - p1[1] + 0.5},
              style:{fill:colorTable[k]}};
    }});

  titles.push({text:panelTitles[i], left:L.titleX, top:34, textAlign:'center', textStyle:{...FONT}});
});

const chart = echarts.init(document.getElementById('c'), null, {renderer:'canvas'});
chart.setOption({
  animation:false, backgroundColor:'#fff',
  title:titles, grid:grids, xAxis:xAxes, yAxis:yAxes, visualMap:visualMaps, series:series
});
</script></body></html>
